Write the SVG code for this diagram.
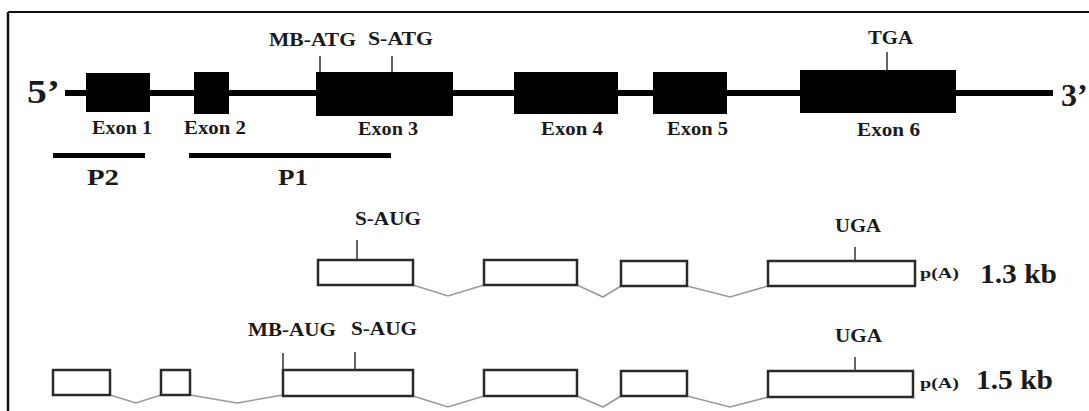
<svg xmlns="http://www.w3.org/2000/svg" width="1089" height="411" viewBox="0 0 1089 411">
<style>
.t{font-family:"Liberation Serif","Times New Roman",serif;font-weight:bold;fill:#1a1a1a}
.lab{font-size:18px}
.exon{fill:#000}
.box{fill:#fff;stroke:#2a2a2a;stroke-width:2.5}
.tick{stroke:#333;stroke-width:1.5}
.conn{fill:none;stroke:#9a9a9a;stroke-width:1.6}
.bar{stroke:#000;stroke-width:5}
</style>
<rect width="1089" height="411" fill="#fff"/>
<g id="frame">
<line x1="8" y1="12" x2="1089" y2="12" stroke="#111" stroke-width="2"/>
<line x1="8" y1="12" x2="8" y2="411" stroke="#111" stroke-width="2.5"/>
</g>
<g id="gene">
<line x1="65" y1="93" x2="1053" y2="93" stroke="#000" stroke-width="6"/>
<text class="t" x="27" y="103" font-size="34" textLength="33" lengthAdjust="spacingAndGlyphs">5’</text>
<text class="t" x="1061" y="106" font-size="32">3’</text>
</g>
<g id="exon1"><rect class="exon" x="86" y="73" width="64" height="39"/><text class="t lab" x="92" y="134" textLength="60" lengthAdjust="spacingAndGlyphs">Exon 1</text></g>
<g id="exon2"><rect class="exon" x="194" y="72" width="35" height="42"/><text class="t lab" x="184" y="134" textLength="62" lengthAdjust="spacingAndGlyphs">Exon 2</text></g>
<g id="exon3"><rect class="exon" x="316" y="72" width="137" height="44"/><line class="tick" x1="320" y1="56" x2="320" y2="72"/><line class="tick" x1="392" y1="56" x2="392" y2="72"/><text class="t lab" x="269" y="46" textLength="87" lengthAdjust="spacingAndGlyphs">MB-ATG</text><text class="t lab" x="368" y="45" textLength="65" lengthAdjust="spacingAndGlyphs">S-ATG</text><text class="t lab" x="358" y="135" textLength="60" lengthAdjust="spacingAndGlyphs">Exon 3</text></g>
<g id="exon4"><rect class="exon" x="514" y="72" width="104" height="42"/><text class="t lab" x="541" y="135" textLength="62" lengthAdjust="spacingAndGlyphs">Exon 4</text></g>
<g id="exon5"><rect class="exon" x="653" y="72" width="74" height="42"/><text class="t lab" x="667" y="135" textLength="61" lengthAdjust="spacingAndGlyphs">Exon 5</text></g>
<g id="exon6"><rect class="exon" x="800" y="70" width="156" height="43"/><line class="tick" x1="887" y1="52" x2="887" y2="70"/><text class="t lab" x="868" y="44" textLength="45" lengthAdjust="spacingAndGlyphs">TGA</text><text class="t lab" x="857" y="136" textLength="63" lengthAdjust="spacingAndGlyphs">Exon 6</text></g>
<g id="P2"><line class="bar" x1="53" y1="155.5" x2="145" y2="155.5"/><text class="t" x="87" y="185" font-size="24" textLength="32" lengthAdjust="spacingAndGlyphs">P2</text></g>
<g id="P1"><line class="bar" x1="189" y1="155.5" x2="391" y2="155.5"/><text class="t" x="278" y="185" font-size="24" textLength="30" lengthAdjust="spacingAndGlyphs">P1</text></g>
<g id="connectors">
<polyline class="conn" points="413,285 448,296 484,285"/>
<polyline class="conn" points="577,285 603,297 621,286"/>
<polyline class="conn" points="687,286 730,297 768,286"/>
<polyline class="conn" points="110,395 136,403 161,395"/>
<polyline class="conn" points="190,395 237,403 283,395"/>
<polyline class="conn" points="413,396 448,407 484,396"/>
<polyline class="conn" points="577,396 603,407 621,396"/>
<polyline class="conn" points="687,396 730,407 768,397"/>
</g>
<g id="mrna13">
<rect class="box" x="318" y="260" width="95" height="25"/>
<line class="tick" x1="357" y1="240" x2="357" y2="260"/>
<text class="t lab" x="355" y="225" textLength="66" lengthAdjust="spacingAndGlyphs">S-AUG</text>
<rect class="box" x="484" y="260" width="93" height="25"/>
<rect class="box" x="621" y="261" width="66" height="25"/>
<rect class="box" x="768" y="261" width="147" height="25"/>
<line class="tick" x1="855" y1="247" x2="855" y2="261"/>
<text class="t lab" x="835" y="232" textLength="46" lengthAdjust="spacingAndGlyphs">UGA</text>
<text class="t" x="920" y="278" font-size="15" textLength="39" lengthAdjust="spacingAndGlyphs">p(A)</text>
<text class="t" x="980" y="283" font-size="28" textLength="77" lengthAdjust="spacingAndGlyphs">1.3 kb</text>
</g>
<g id="mrna15">
<rect class="box" x="53" y="370" width="57" height="25"/>
<rect class="box" x="161" y="370" width="29" height="25"/>
<rect class="box" x="283" y="370" width="130" height="26"/>
<line class="tick" x1="283" y1="353" x2="283" y2="370"/>
<line class="tick" x1="355" y1="352" x2="355" y2="370"/>
<text class="t lab" x="248" y="336" font-size="19" textLength="88" lengthAdjust="spacingAndGlyphs">MB-AUG</text>
<text class="t lab" x="351" y="335" font-size="19" textLength="66" lengthAdjust="spacingAndGlyphs">S-AUG</text>
<rect class="box" x="484" y="370" width="93" height="26"/>
<rect class="box" x="621" y="371" width="66" height="25"/>
<rect class="box" x="768" y="371" width="145" height="26"/>
<line class="tick" x1="855" y1="357" x2="855" y2="371"/>
<text class="t lab" x="835" y="342" textLength="47" lengthAdjust="spacingAndGlyphs">UGA</text>
<text class="t" x="920" y="388" font-size="15" textLength="39" lengthAdjust="spacingAndGlyphs">p(A)</text>
<text class="t" x="976" y="389" font-size="28" textLength="77" lengthAdjust="spacingAndGlyphs">1.5 kb</text>
</g>
</svg>
